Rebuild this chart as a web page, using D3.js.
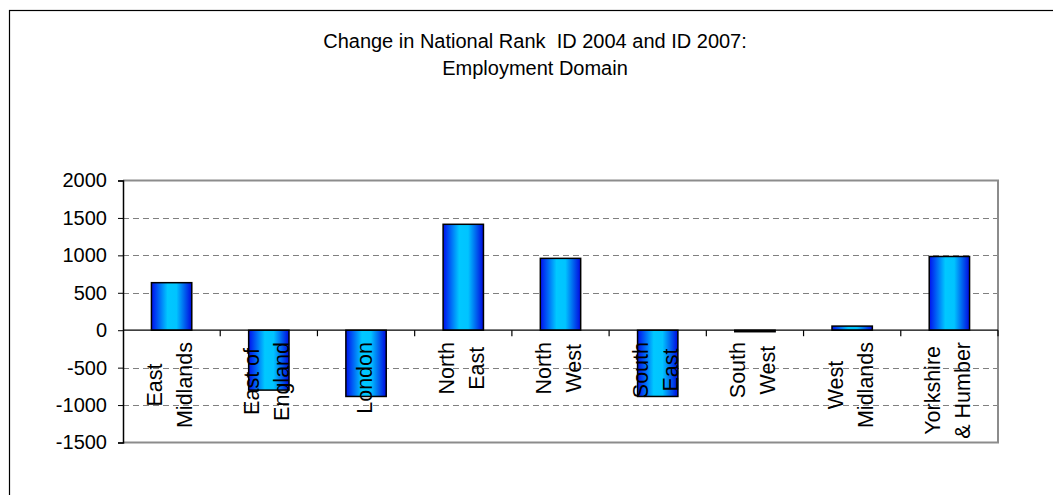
<!DOCTYPE html>
<html>
<head>
<meta charset="utf-8">
<script src="https://cdn.jsdelivr.net/npm/d3@7"></script>
<style>
  html, body { margin: 0; padding: 0; background: #ffffff; }
  svg { display: block; font-family: "Liberation Sans", Arial, sans-serif; }
  .title { white-space: pre; }
</style>
</head>
<body>
<svg id="chart" width="1053" height="495"></svg>
<script>
// Regions (each label split into its display lines)
const regions = [
  ["East", "Midlands"],
  ["East of", "England"],
  ["London"],
  ["North", "East"],
  ["North", "West"],
  ["South", "East"],
  ["South", "West"],
  ["West", "Midlands"],
  ["Yorkshire", "& Humber"]
];
// Change in national rank between ID 2004 and ID 2007
const rankChange = [635, -800, -885, 1415, 960, -885, -20, 55, 985];
// Value axis ticks
const yTicks = [-1500, -1000, -500, 0, 500, 1000, 1500, 2000];
const titleLines = ["Change in National Rank  ID 2004 and ID 2007:", "Employment Domain"];

const svg = d3.select("#chart");
const W = 1053, H = 495;
const plot = { left: 123, right: 998, top: 180.5, bottom: 442.5 };

svg.append("rect").attr("width", W).attr("height", H).attr("fill", "#ffffff");

// Outer chart frame
svg.append("rect")
  .attr("x", 9.5).attr("y", 10.5)
  .attr("width", W + 20).attr("height", H + 20)
  .attr("fill", "none").attr("stroke", "#000").attr("stroke-width", 1.2);

// Title
svg.append("g").selectAll("text").data(titleLines).join("text")
  .attr("class", "title")
  .attr("xml:space", "preserve")
  .attr("x", 535)
  .attr("y", (d, i) => 48 + i * 27)
  .attr("text-anchor", "middle")
  .attr("font-size", 20)
  .attr("fill", "#000")
  .text(d => d);

const keys = regions.map((r, i) => i);
const x = d3.scaleBand().domain(keys).range([plot.left, plot.right]).paddingInner(0.585).paddingOuter(0.2925);
const xStep = d3.scaleBand().domain(keys).range([plot.left, plot.right]);
const y = d3.scaleLinear().domain([-1500, 2000]).range([plot.bottom, plot.top]);

// Bar fill: blue edges, cyan centre
const defs = svg.append("defs");
const grad = defs.append("linearGradient").attr("id", "barFill")
  .attr("x1", "0%").attr("x2", "100%").attr("y1", "0%").attr("y2", "0%");
[["0%", "#0010ee"], ["40%", "#00c8ff"], ["62%", "#00c4ff"], ["100%", "#0008e0"]]
  .forEach(([o, c]) => grad.append("stop").attr("offset", o).attr("stop-color", c));

// Dashed gridlines
svg.append("g").selectAll("line")
  .data(yTicks.filter(v => v !== 0 && v !== 2000 && v !== -1500))
  .join("line")
  .attr("x1", plot.left).attr("x2", plot.right)
  .attr("y1", d => Math.round(y(d)) + 0.5).attr("y2", d => Math.round(y(d)) + 0.5)
  .attr("stroke", "#808080").attr("stroke-width", 1)
  .attr("stroke-dasharray", "6,4");

// Plot area border (top, right, bottom)
svg.append("path")
  .attr("d", `M${plot.left},${plot.top}H${plot.right}V${plot.bottom}H${plot.left}`)
  .attr("fill", "none").attr("stroke", "#8c8c8c").attr("stroke-width", 2);

// Bars
svg.append("g").selectAll("rect").data(rankChange).join("rect")
  .attr("x", (d, i) => x(i))
  .attr("width", x.bandwidth())
  .attr("y", d => y(Math.max(0, d)))
  .attr("height", d => Math.abs(y(d) - y(0)))
  .attr("fill", "url(#barFill)")
  .attr("stroke", "#000").attr("stroke-width", 1.5);

// Value axis (plain hyphen for negatives)
const yAxis = svg.append("g")
  .attr("transform", `translate(${plot.left},0)`)
  .call(d3.axisLeft(y).tickValues(yTicks).tickSize(5).tickPadding(11).tickFormat(d => String(d)));
yAxis.select(".domain").attr("stroke", "#000").attr("stroke-width", 1.5);
yAxis.selectAll(".tick line").attr("stroke", "#000");
yAxis.selectAll(".tick text")
  .attr("font-size", 20).attr("font-family", "Liberation Sans, Arial, sans-serif").attr("fill", "#000");

// Category axis on the zero line, ticks between categories
const y0 = y(0);
svg.append("line")
  .attr("x1", plot.left).attr("x2", plot.right)
  .attr("y1", y0).attr("y2", y0)
  .attr("stroke", "#000").attr("stroke-width", 1.2);
const boundaries = keys.map(i => xStep(i) + xStep.step());
svg.append("g").selectAll("line").data(boundaries).join("line")
  .attr("x1", d => d).attr("x2", d => d)
  .attr("y1", y0).attr("y2", y0 + 6)
  .attr("stroke", "#000").attr("stroke-width", 1.2);

// Rotated category labels, drawn over the bars
const lineGap = 30;
const labelTop = 342;
const labels = svg.append("g");
regions.forEach((lines, i) => {
  const cx = xStep(i) + xStep.step() / 2;
  const grp = labels.append("g");
  const texts = lines.map(t => grp.append("text")
    .attr("font-size", 21.5)
    .attr("text-anchor", "middle")
    .attr("fill", "#000")
    .text(t));
  const maxLen = d3.max(texts, t => t.node().getComputedTextLength());
  const cy = labelTop + maxLen / 2;
  texts.forEach((t, j) => {
    const bx = cx + (j - (lines.length - 1) / 2) * lineGap + 5.5;
    t.attr("transform", `translate(${bx},${cy}) rotate(-90)`);
  });
});
</script>
</body>
</html>
